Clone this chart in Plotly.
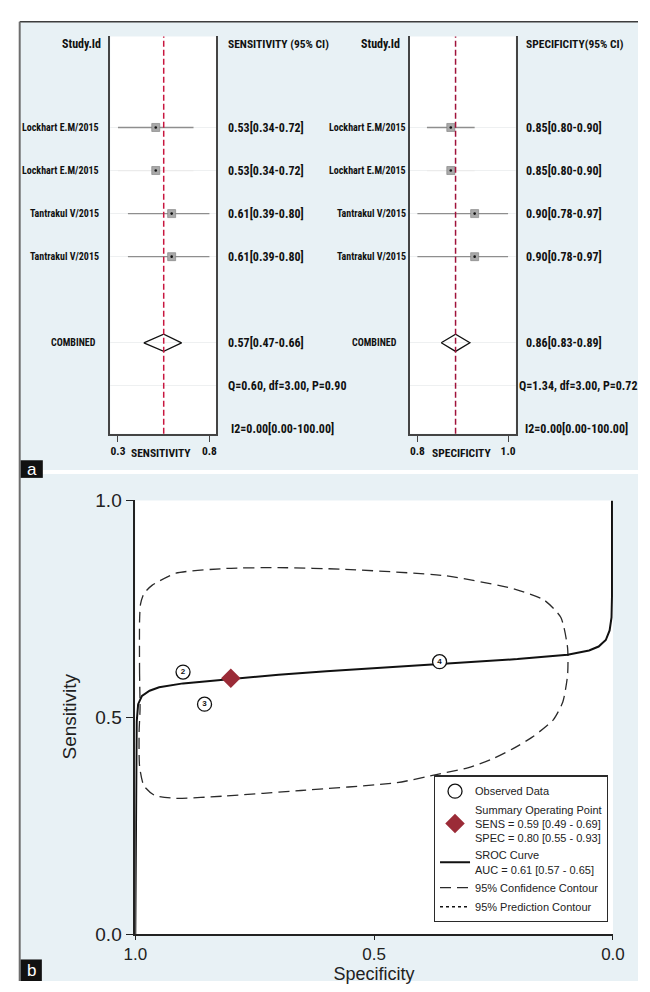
import plotly.graph_objects as go

W, H = 650, 992

# ---------------- forest plot data ----------------
studies = ["Lockhart E.M/2015", "Lockhart E.M/2015", "Tantrakul V/2015", "Tantrakul V/2015"]
sens = [0.53, 0.53, 0.61, 0.61]
sens_lo = [0.34, 0.34, 0.39, 0.39]
sens_hi = [0.72, 0.72, 0.80, 0.80]
spec = [0.85, 0.85, 0.90, 0.90]
spec_lo = [0.80, 0.80, 0.78, 0.78]
spec_hi = [0.90, 0.90, 0.97, 0.97]
sens_pooled = [0.57, 0.47, 0.66]   # estimate, lower, upper
spec_pooled = [0.86, 0.83, 0.89]
sens_het = "Q=0.60, df=3.00, P=0.90"
spec_het = "Q=1.34, df=3.00, P=0.72"
sens_i2 = "I2=0.00[0.00-100.00]"
spec_i2 = "I2=0.00[0.00-100.00]"
sens_tickvals = [0.34, 0.80]
sens_ticktext = ["0.3", "0.8"]
spec_tickvals = [0.78, 0.97]
spec_ticktext = ["0.8", "1.0"]

# ---------------- SROC data ----------------
obs_id = ["2", "3", "4"]
obs_spec = [0.900, 0.855, 0.363]
obs_sens = [0.604, 0.530, 0.628]
sop_spec = [0.80]
sop_sens = [0.59]
sop_sens_ci = [0.49, 0.69]
sop_spec_ci = [0.55, 0.93]
auc = [0.61, 0.57, 0.65]
sroc_spec = [1.0, 0.998, 0.997, 0.994, 0.986, 0.97, 0.95, 0.90, 0.80, 0.70, 0.60,
             0.50, 0.363, 0.20, 0.095, 0.05, 0.03, 0.015, 0.007, 0.003, 0.002, 0.002]
sroc_sens = [0.0, 0.40, 0.49, 0.53, 0.549, 0.561, 0.569, 0.578, 0.588, 0.598, 0.606,
             0.613, 0.622, 0.634, 0.644, 0.654, 0.663, 0.678, 0.70, 0.73, 0.78, 1.0]
conf_spec = [0.990, 0.991, 0.991, 0.989, 0.982, 0.965, 0.915, 0.809, 0.700, 0.561,
             0.349, 0.208, 0.144, 0.109, 0.095, 0.095, 0.105, 0.125, 0.169, 0.210,
             0.250, 0.304, 0.365, 0.452, 0.653, 0.815, 0.915, 0.960, 0.982, 0.991,
             0.992, 0.990]
conf_sens = [0.519, 0.600, 0.723, 0.761, 0.785, 0.804, 0.832, 0.843, 0.845, 0.841,
             0.826, 0.796, 0.770, 0.730, 0.660, 0.597, 0.535, 0.494, 0.454, 0.427,
             0.405, 0.383, 0.369, 0.349, 0.331, 0.318, 0.313, 0.320, 0.342, 0.387,
             0.465, 0.519]


def fx(p):
    return p / W


def fy(p):
    return 1 - p / H


NARROW = "Roboto Condensed, Archivo Narrow, Asap Condensed, sans-serif"
ARIAL = "Liberation Sans, Arial, sans-serif"
INK = "#111111"

rows = [0, 1, 2, 3]
ROW_POOL, ROW_Q, ROW_I2 = 5, 6, 7
ci_visible = [True, False, True, True]

fig = go.Figure()


def add_forest(xa, ya, est, lo, hi, pooled):
    vx, vy, fxs, fys = [], [], [], []
    for r, l, h, v in zip(rows, lo, hi, ci_visible):
        if v:
            vx += [l, h, None]
            vy += [r, r, None]
        else:
            fxs += [l, h, None]
            fys += [r, r, None]
    fig.add_trace(go.Scatter(x=fxs, y=fys, mode="lines", xaxis=xa, yaxis=ya,
                             line=dict(color="#ebebeb", width=1.2),
                             showlegend=False, hoverinfo="skip"))
    fig.add_trace(go.Scatter(x=vx, y=vy, mode="lines", xaxis=xa, yaxis=ya,
                             line=dict(color="#8e8e8e", width=1.4),
                             showlegend=False, hoverinfo="skip"))
    fig.add_trace(go.Scatter(x=est, y=rows, mode="markers", xaxis=xa, yaxis=ya,
                             marker=dict(symbol="square", size=8, color="#a9a9a9",
                                         line=dict(color="#7a7a7a", width=0.6)),
                             showlegend=False))
    fig.add_trace(go.Scatter(x=est, y=rows, mode="markers", xaxis=xa, yaxis=ya,
                             marker=dict(symbol="circle", size=2.6, color="#111"),
                             showlegend=False, hoverinfo="skip"))
    e, l, h = pooled
    fig.add_trace(go.Scatter(x=[l, e, h, e, l],
                             y=[ROW_POOL, ROW_POOL - 0.2, ROW_POOL, ROW_POOL + 0.2, ROW_POOL],
                             mode="lines", xaxis=xa, yaxis=ya,
                             line=dict(color="#111", width=1.3),
                             showlegend=False, hoverinfo="skip"))


add_forest("x", "y", sens, sens_lo, sens_hi, sens_pooled)
add_forest("x2", "y2", spec, spec_lo, spec_hi, spec_pooled)

# ---------------- SROC traces ----------------
fig.add_trace(go.Scatter(x=conf_spec, y=conf_sens, mode="lines", xaxis="x3", yaxis="y3",
                         line=dict(color="#2a2a2a", width=1.3, dash="11px,6px",
                                   shape="spline", smoothing=0.6),
                         name="95% Confidence Contour", legendrank=4))
fig.add_trace(go.Scatter(x=sroc_spec, y=sroc_sens, mode="lines", xaxis="x3", yaxis="y3",
                         line=dict(color="#111", width=2),
                         name="SROC Curve<br>AUC = %.2f [%.2f - %.2f]" % tuple(auc),
                         legendrank=3))
fig.add_trace(go.Scatter(x=[None], y=[None], mode="lines", xaxis="x3", yaxis="y3",
                         line=dict(color="#111", width=1.5, dash="dot"),
                         name="95% Prediction Contour", legendrank=5))
fig.add_trace(go.Scatter(x=obs_spec, y=obs_sens, mode="markers+text", xaxis="x3", yaxis="y3",
                         text=obs_id, textposition="middle center",
                         textfont=dict(size=8, color="#111", family=ARIAL, weight="bold"),
                         marker=dict(symbol="circle", size=14, color="white",
                                     line=dict(color="#111", width=1.3)),
                         name="Observed Data", legendrank=1))
fig.add_trace(go.Scatter(x=sop_spec, y=sop_sens, mode="markers", xaxis="x3", yaxis="y3",
                         marker=dict(symbol="diamond", size=15, color="#9b2b37"),
                         name=("Summary Operating Point<br>SENS = %.2f [%.2f - %.2f]<br>"
                               "SPEC = %.2f [%.2f - %.2f]")
                         % (sop_sens[0], sop_sens_ci[0], sop_sens_ci[1],
                            sop_spec[0], sop_spec_ci[0], sop_spec_ci[1]),
                         legendrank=2))

# ---------------- axes ----------------
forest_ydom = [fy(433), fy(27)]
forest_yrange = [7.114, -2.114]
tickfont_forest = dict(family=NARROW, size=11.5, color=INK, weight="bold")

common_fx = dict(showgrid=False, zeroline=False, showline=True, linecolor="#444",
                 linewidth=1.5, ticks="outside", ticklen=6, tickcolor="#444",
                 tickwidth=1.3, tickfont=tickfont_forest, fixedrange=True)
common_fy = dict(range=forest_yrange, showgrid=True, gridcolor="#eef0f1", gridwidth=1,
                 tickvals=[0, 1, 2, 3, ROW_POOL, ROW_Q], showticklabels=False,
                 zeroline=False, showline=True, mirror=True, linecolor="#444",
                 linewidth=1.5, ticks="", fixedrange=True)

fig.update_layout(
    xaxis=dict(domain=[fx(102), fx(212)], anchor="y", range=[0.301, 0.834],
               tickvals=sens_tickvals, ticktext=sens_ticktext, **common_fx),
    yaxis=dict(domain=forest_ydom, anchor="x", **common_fy),
    xaxis2=dict(domain=[fx(413), fx(523)], anchor="y2", range=[0.764, 0.986],
                tickvals=spec_tickvals, ticktext=spec_ticktext, **common_fx),
    yaxis2=dict(domain=forest_ydom, anchor="x2", **common_fy),
    xaxis3=dict(domain=[fx(128), fx(624)], anchor="y3", range=[1, 0],
                tickvals=[1, 0.5, 0], ticktext=["1.0", "0.5", "0.0"],
                ticks="outside", ticklen=4, tickwidth=1.3, tickcolor="#222",
                showline=True, linecolor="#222", linewidth=1.5,
                showgrid=False, zeroline=False,
                tickfont=dict(family=ARIAL, size=17, color="#222"),
                title=dict(text="Specificity", standoff=1,
                           font=dict(family=ARIAL, size=18, color="#222"))),
    yaxis3=dict(domain=[fy(944), fy(501)], anchor="x3", range=[0, 1],
                tickvals=[0, 0.5, 1], ticktext=["0.0", "0.5", "1.0"],
                ticks="outside", ticklen=8, tickwidth=1.3, tickcolor="#222",
                showline=True, linecolor="#222", linewidth=1.5,
                showgrid=False, zeroline=False,
                tickfont=dict(family=ARIAL, size=19, color="#222")),
)

# ---------------- background panels and frame ----------------
PANEL = "#e8f1f5"
shapes = [
    dict(type="rect", xref="paper", yref="paper", x0=fx(8), x1=1, y0=fy(470), y1=fy(12),
         fillcolor=PANEL, line=dict(width=0), layer="below"),
    dict(type="rect", xref="paper", yref="paper", x0=fx(8), x1=1, y0=0, y1=fy(474),
         fillcolor=PANEL, line=dict(width=0), layer="below"),
]
for xr, yr in (("x", "y"), ("x2", "y2"), ("x3", "y3")):
    shapes.append(dict(type="rect", xref=xr + " domain", yref=yr + " domain",
                       x0=0, x1=1, y0=0, y1=1, fillcolor="white",
                       line=dict(width=0), layer="below"))
shapes += [
    dict(type="line", xref="paper", yref="paper", x0=fx(8), x1=1, y0=fy(12), y1=fy(12),
         line=dict(color="#3d3d3d", width=1.6)),
    dict(type="line", xref="paper", yref="paper", x0=fx(8), x1=fx(8), y0=0, y1=fy(12),
         line=dict(color="#6e6e6e", width=2)),
    # pooled estimate reference lines
    dict(type="line", xref="x", yref="y domain", x0=sens_pooled[0], x1=sens_pooled[0],
         y0=0, y1=1, line=dict(color="#c8163f", width=1.5, dash="6px,3px")),
    dict(type="line", xref="x2", yref="y2 domain", x0=spec_pooled[0], x1=spec_pooled[0],
         y0=0, y1=1, line=dict(color="#a0123a", width=1.5, dash="6px,3px")),
    # panel tags
    dict(type="rect", xref="paper", yref="paper", x0=fx(9), x1=fx(32), y0=fy(478), y1=fy(460),
         fillcolor="#111", line=dict(width=0)),
    dict(type="rect", xref="paper", yref="paper", x0=fx(9), x1=fx(31), y0=0, y1=fy(970),
         fillcolor="#111", line=dict(width=0)),
]
fig.update_layout(shapes=shapes)

# ---------------- text ----------------
ann = []


def txt(x, y, s, size, anchor="left", yref="paper", family=NARROW, bold=True,
        color=INK, angle=0):
    ann.append(dict(x=fx(x), y=(fy(y) if yref == "paper" else y), xref="paper", yref=yref,
                    text=s, showarrow=False, xanchor=anchor, yanchor="middle",
                    textangle=angle,
                    font=dict(family=family, size=size, color=color,
                              weight="bold" if bold else "normal")))


def ci_label(e, l, h):
    return "%.2f[%.2f-%.2f]" % (e, l, h)


# left forest panel
txt(95, 35, "Study.Id", 12, "right")
txt(222, 35, "SENSITIVITY (95% CI)", 11.5)
for r, name, e, l, h in zip(rows, studies, sens, sens_lo, sens_hi):
    txt(92, r, name, 10, "right", yref="y")
    txt(222, r, ci_label(e, l, h), 12, yref="y")
txt(89, ROW_POOL, "COMBINED", 10, "right", yref="y")
txt(222, ROW_POOL, ci_label(*sens_pooled), 12, yref="y")
txt(222, ROW_Q, sens_het, 12, yref="y")
txt(225, ROW_I2, sens_i2, 12, yref="y")
txt(155, 453, "SENSITIVITY", 11.5, "center")

# right forest panel
txt(405, 35, "Study.Id", 12, "right")
txt(532, 35, "SPECIFICITY(95% CI)", 11.5)
for r, name, e, l, h in zip(rows, studies, spec, spec_lo, spec_hi):
    txt(411, r, name, 10, "right", yref="y2")
    txt(532, r, ci_label(e, l, h), 12, yref="y2")
txt(402, ROW_POOL, "COMBINED", 10, "right", yref="y2")
txt(532, ROW_POOL, ci_label(*spec_pooled), 12, yref="y2")
txt(524, ROW_Q, spec_het, 12, yref="y2")
txt(531, ROW_I2, spec_i2, 12, yref="y2")
txt(467, 453, "SPECIFICITY", 11.5, "center")

# SROC y-axis title
txt(60, 722, "Sensitivity", 19, "center", family=ARIAL, bold=False, color="#222", angle=-90)

# panel tags
txt(20.5, 469, "a", 17, "center", family=ARIAL, bold=False, color="white")
txt(20, 981, "b", 17, "center", family=ARIAL, bold=False, color="white")

fig.update_layout(annotations=ann)

fig.update_layout(
    width=W, height=H, margin=dict(l=0, r=0, t=0, b=0),
    paper_bgcolor="white", plot_bgcolor="rgba(0,0,0,0)",
    showlegend=True,
    legend=dict(x=fx(438), y=fy(782), xanchor="left", yanchor="top",
                bgcolor="white", bordercolor="#2a2a2a", borderwidth=1.2,
                font=dict(family=ARIAL, size=11, color="#222"),
                tracegroupgap=0, itemwidth=30, valign="middle"),
)

fig.write_html("out.html")
